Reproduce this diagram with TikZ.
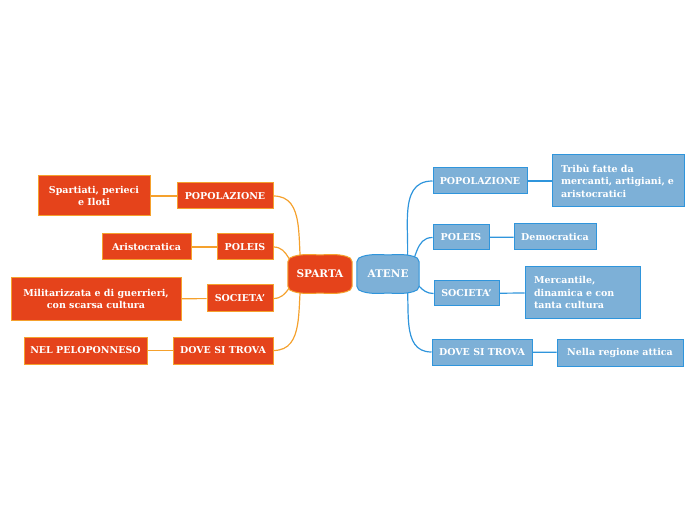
\documentclass[tikz,border=0pt]{standalone}
\usepackage{fontspec}
\setmainfont{DejaVu Serif}
\usetikzlibrary{backgrounds}
\definecolor{spfill}{HTML}{E5431B}
\definecolor{spline}{HTML}{F5A12D}
\definecolor{atfill}{HTML}{7DB0D7}
\definecolor{atline}{HTML}{2F95DC}
\tikzset{
  leaf/.style={line width=1pt, text=white, minimum height=26pt, inner xsep=6pt, inner ysep=2pt,
    font=\bfseries\fontsize{9.5}{12.5}\selectfont},
  spbox/.style={leaf, draw=spline, fill=spfill, align=center},
  atbox/.style={leaf, draw=atline, fill=atfill, align=center},
  atnote/.style={leaf, draw=atline, fill=atfill, align=left, inner xsep=9pt},
  hub/.style={text=white, minimum height=38pt, inner sep=0pt, font=\bfseries\fontsize{10.5}{13}\selectfont},
  spedge/.style={draw=spline, line width=1.2pt},
  atedge/.style={draw=atline, line width=1.2pt}
}
\begin{document}
\begin{tikzpicture}[x=1pt, y=1pt]
		\useasboundingbox (0,0) rectangle (696,520);
		% centre
		\node[hub, minimum width=64pt] (sparta) at (320,246) {SPARTA};
		\node[hub, minimum width=62pt] (atene) at (388,246) {ATENE};
		% Sparta
		\node[spbox, minimum width=96pt] (sppop) at (225,324) {POPOLAZIONE};
		\node[spbox, minimum width=112pt, minimum height=40pt] (spspart) at (94,324) {Spartiati, perieci\\e Iloti};
		\node[spbox, minimum width=56pt] (sppol) at (245,273) {POLEIS};
		\node[spbox, minimum width=89pt] (sparis) at (146.5,273) {Aristocratica};
		\node[spbox, minimum width=66pt, minimum height=27pt] (spsoc) at (240,221.5) {SOCIETA'};
		\node[spbox, minimum width=170pt, minimum height=42pt] (spmil) at (96,221) {Militarizzata e di guerrieri,\\con scarsa cultura};
		\node[spbox, minimum width=100pt, minimum height=27pt] (spdov) at (223,169.5) {DOVE SI TROVA};
		\node[spbox, minimum width=123pt, minimum height=27pt] (spnel) at (85.5,169.5) {NEL PELOPONNESO};
		% Atene
		\node[atbox, minimum width=94pt] (atpop) at (480,339) {POPOLAZIONE};
		\node[atnote, text width=114pt, minimum height=52pt] (attrib) at (618,339) {Tribù fatte da\\mercanti, artigiani, e\\aristocratici};
		\node[atbox, minimum width=56pt, minimum height=25pt] (atpol) at (461,282.5) {POLEIS};
		\node[atbox, minimum width=82pt] (atdem) at (555,283) {Democratica};
		\node[atbox, minimum width=65pt, minimum height=25pt] (atsoc) at (466.5,226.5) {SOCIETA'};
		\node[atnote, text width=97pt, minimum height=51pt] (atmerc) at (582.5,227.5) {Mercantile,\\dinamica e con\\tanta cultura};
		\node[atbox, minimum width=100pt] (atdov) at (482,168) {DOVE SI TROVA};
		\node[atbox, minimum width=126pt, minimum height=27pt] (atnel) at (620,167.5) {Nella regione attica};
		\begin{scope}[on background layer]
			% rami
			\draw[spedge] (sppop.east) to[out=0, in=100] ([xshift=-18pt]sparta.center);
			\draw[spedge] (sppol.east) to[out=0, in=150] ([xshift=-18pt]sparta.center);
			\draw[spedge] (spsoc.east) to[out=0, in=210] ([xshift=-18pt]sparta.center);
			\draw[spedge] (spdov.east) to[out=0, in=260] ([xshift=-18pt]sparta.center);
			\draw[spedge] (sppop) -- (spspart);
			\draw[spedge] (sppol) -- (sparis);
			\draw[spedge] (spsoc) -- (spmil);
			\draw[spedge] (spdov) -- (spnel);
			\draw[atedge] (atpop.west) to[out=180, in=80] ([xshift=18pt]atene.center);
			\draw[atedge] (atpol.west) to[out=180, in=50] ([xshift=18pt]atene.center);
			\draw[atedge] (atsoc.west) to[out=180, in=-30] ([xshift=18pt]atene.center);
			\draw[atedge] (atdov.west) to[out=180, in=-80] ([xshift=18pt]atene.center);
			\draw[atedge] (atpop) -- (attrib);
			\draw[atedge] (atpol) -- (atdem);
			\draw[atedge] (atsoc) -- (atmerc);
			\draw[atedge] (atdov) -- (atnel);
			% forme centrali
			\draw[draw=spline, fill=spfill, line width=1pt] ([yshift=-7pt]sparta.north west) to[out=90, in=195] ([xshift=6pt,yshift=-1.5pt]sparta.north west) to[out=15, in=180] (sparta.north) to[out=0, in=165] ([xshift=-6pt,yshift=-1.5pt]sparta.north east) to[out=-15, in=90] ([yshift=-7pt]sparta.north east) -- ([yshift=7pt]sparta.south east) to[out=-90, in=15] ([xshift=-6pt,yshift=1.5pt]sparta.south east) to[out=195, in=0] (sparta.south) to[out=180, in=-15] ([xshift=6pt,yshift=1.5pt]sparta.south west) to[out=165, in=-90] ([yshift=7pt]sparta.south west) -- cycle;
			\draw[draw=atline, fill=atfill, line width=1pt] ([yshift=-7pt]atene.north west) to[out=90, in=195] ([xshift=6pt,yshift=-1.5pt]atene.north west) to[out=15, in=180] (atene.north) to[out=0, in=165] ([xshift=-6pt,yshift=-1.5pt]atene.north east) to[out=-15, in=90] ([yshift=-7pt]atene.north east) -- ([yshift=7pt]atene.south east) to[out=-90, in=15] ([xshift=-6pt,yshift=1.5pt]atene.south east) to[out=195, in=0] (atene.south) to[out=180, in=-15] ([xshift=6pt,yshift=1.5pt]atene.south west) to[out=165, in=-90] ([yshift=7pt]atene.south west) -- cycle;
		\end{scope}
	\end{tikzpicture}
\end{document}
